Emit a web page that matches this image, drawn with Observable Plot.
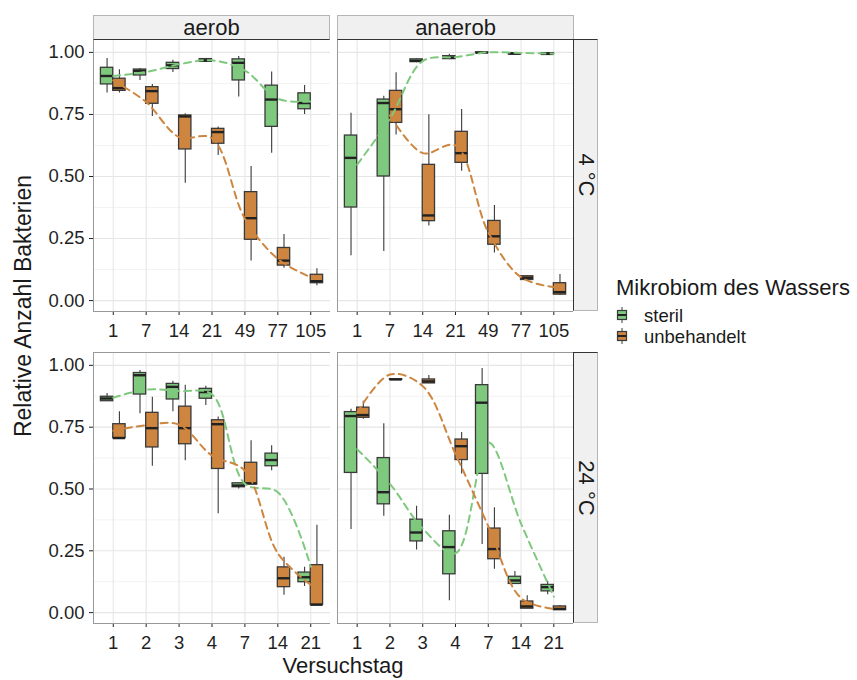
<!DOCTYPE html>
<html>
<head>
<meta charset="utf-8">
<script src="https://cdn.jsdelivr.net/npm/d3@7"></script>
<script src="https://cdn.jsdelivr.net/npm/@observablehq/plot@0.6"></script>
<style>
  html, body { margin: 0; padding: 0; background: #fff; }
  #chart { position: relative; width: 857px; height: 680px; font-family: "Liberation Sans", Arial, sans-serif; color: #1a1a1a; overflow: hidden; }
  .abs { position: absolute; }
  .strip { position: absolute; background: #f0f0f0; box-sizing: border-box; border: 1px solid #b5b5b5; display: flex; align-items: center; justify-content: center; font-size: 22px; color: #1a1a1a; }
  .strip.top { border-bottom: 1.5px solid #333; }
  .strip.right { border-left: 1.5px solid #333; border-top: 1.5px solid #333; }
  .strip.right span { transform: rotate(90deg); white-space: nowrap; display: inline-block; }
</style>
</head>
<body>
<div id="chart"></div>
<script>
// ---------- data ----------
const daysCold = ["1", "7", "14", "21", "49", "77", "105"];
const daysWarm = ["1", "2", "3", "4", "7", "14", "21"];
const groups = ["steril", "unbehandelt"];
const groupColors = ["#7fc97f", "#cd853f"];
const yTicks = [0, 0.25, 0.5, 0.75, 1];
const yMinor = [0.125, 0.375, 0.625, 0.875];

// five-number summaries [whisker low, q1, median, q3, whisker high]
const aerob4_steril = [
  [0.836, 0.871, 0.905, 0.938, 0.975],
  [0.887, 0.907, 0.926, 0.931, 0.935],
  [0.919, 0.933, 0.948, 0.958, 0.968],
  [0.960, 0.962, 0.968, 0.973, 0.975],
  [0.820, 0.887, 0.958, 0.972, 0.984],
  [0.594, 0.700, 0.810, 0.866, 0.921],
  [0.750, 0.771, 0.796, 0.835, 0.867]
];
const aerob4_unbehandelt = [
  [0.836, 0.845, 0.856, 0.894, 0.930],
  [0.742, 0.793, 0.844, 0.860, 0.871],
  [0.473, 0.609, 0.742, 0.746, 0.753],
  [0.585, 0.632, 0.679, 0.692, 0.699],
  [0.159, 0.245, 0.332, 0.437, 0.540],
  [0.130, 0.141, 0.161, 0.212, 0.266],
  [0.060, 0.070, 0.078, 0.104, 0.128]
];
const anaerob4_steril = [
  [0.181, 0.375, 0.575, 0.665, 0.755],
  [0.198, 0.500, 0.796, 0.810, 0.823],
  [0.958, 0.961, 0.966, 0.972, 0.974],
  [0.970, 0.973, 0.979, 0.985, 0.993],
  [0.995, 0.997, 0.999, 1.000, 1.000],
  [0.990, 0.992, 0.995, 0.997, 0.998],
  [0.990, 0.992, 0.994, 0.997, 0.998]
];
const anaerob4_unbehandelt = [
  null,
  [0.667, 0.716, 0.771, 0.845, 0.918],
  [0.301, 0.320, 0.343, 0.547, 0.749],
  [0.521, 0.555, 0.594, 0.680, 0.770],
  [0.192, 0.225, 0.259, 0.321, 0.383],
  [0.080, 0.083, 0.092, 0.098, 0.100],
  [0.020, 0.024, 0.034, 0.070, 0.105]
];
const aerob24_steril = [
  [0.855, 0.855, 0.866, 0.873, 0.886],
  [0.804, 0.882, 0.960, 0.969, 0.979],
  [0.812, 0.862, 0.913, 0.925, 0.936],
  [0.838, 0.865, 0.892, 0.905, 0.916],
  [0.500, 0.507, 0.514, 0.523, 0.523],
  [0.574, 0.592, 0.617, 0.643, 0.675],
  [0.106, 0.123, 0.143, 0.162, 0.183]
];
const aerob24_unbehandelt = [
  [0.706, 0.706, 0.706, 0.762, 0.812],
  [0.592, 0.668, 0.746, 0.808, 0.871],
  [0.614, 0.681, 0.746, 0.833, 0.920],
  [0.400, 0.581, 0.762, 0.778, 0.791],
  [0.518, 0.518, 0.523, 0.606, 0.695],
  [0.070, 0.103, 0.139, 0.183, 0.224],
  [0.030, 0.032, 0.032, 0.192, 0.353]
];
const anaerob24_steril = [
  [0.336, 0.565, 0.795, 0.811, 0.822],
  [0.390, 0.438, 0.487, 0.625, 0.764],
  [0.253, 0.288, 0.324, 0.376, 0.430],
  [0.048, 0.155, 0.265, 0.329, 0.394],
  [0.276, 0.561, 0.849, 0.920, 0.987],
  [0.116, 0.116, 0.130, 0.145, 0.166],
  [0.072, 0.086, 0.103, 0.112, 0.127]
];
const anaerob24_unbehandelt = [
  [0.782, 0.788, 0.799, 0.829, 0.855],
  [0.941, 0.942, 0.943, 0.944, 0.945],
  [0.927, 0.927, 0.935, 0.943, 0.959],
  [0.561, 0.617, 0.673, 0.700, 0.728],
  [0.175, 0.216, 0.257, 0.340, 0.424],
  [0.016, 0.016, 0.025, 0.045, 0.068],
  [0.010, 0.010, 0.015, 0.025, 0.029]
];

// dashed trend lines (values read at each day)
const aerob4_sterilLine = [0.905, 0.921, 0.952, 0.968, 0.927, 0.813, 0.802];
const aerob4_unbehandeltLine = [0.887, 0.800, 0.659, 0.654, 0.330, 0.168, 0.094];
const anaerob4_sterilLine = [0.548, 0.733, 0.965, 0.981, 1.000, 0.998, 0.995];
const anaerob4_unbehandeltLine = [null, 0.746, 0.594, 0.625, 0.275, 0.094, 0.054];
const aerob24_sterilLine = [0.869, 0.902, 0.896, 0.882, 0.521, 0.487, 0.186];
const aerob24_unbehandeltLine = [0.735, 0.758, 0.760, 0.635, 0.574, 0.240, 0.112];
const anaerob24_sterilLine = [0.661, 0.521, 0.340, 0.240, 0.688, 0.360, 0.065];
const anaerob24_unbehandeltLine = [0.808, 0.963, 0.916, 0.641, 0.350, 0.059, 0.015];

// ---------- helpers ----------
const FONT = '"Liberation Sans", Arial, sans-serif';
const DODGE = 0.375;

function boxRows(stats, group) {
  const side = group === groups[0] ? -1 : 1;
  return stats.map((s, i) => s == null ? null : {
    group,
    x1: side < 0 ? i - DODGE : i,
    x2: side < 0 ? i : i + DODGE,
    xc: i + side * DODGE / 2,
    lo: s[0], q1: s[1], med: s[2], q3: s[3], hi: s[4]
  }).filter(Boolean);
}
function lineRows(vals, group) {
  return vals.map((v, i) => v == null ? null : {i, v, group}).filter(Boolean);
}

function panel({days, steril, unb, sterilLine, unbLine, showY, width, height, marginLeft}) {
  const boxes = [...boxRows(steril, groups[0]), ...boxRows(unb, groups[1])];
  const lines = [...lineRows(sterilLine, groups[0]), ...lineRows(unbLine, groups[1])];
  const idx = days.map((d, i) => i);
  return Plot.plot({
    width, height,
    marginLeft, marginRight: 0, marginTop: 0, marginBottom: 40,
    style: {fontFamily: FONT, fontSize: "18.5px", color: "#1f1f1f", background: "transparent"},
    x: {type: "linear", domain: [-0.6, 6.6], ticks: idx, tickFormat: i => days[i], tickSize: 4, tickPadding: 8, label: null},
    y: {domain: [-0.044, 1.052], ticks: yTicks, tickFormat: d3.format(".2f"), tickSize: 4, tickPadding: 5, label: null, axis: showY ? "left" : null},
    color: {domain: groups, range: groupColors},
    marks: [
      Plot.ruleY(yMinor, {stroke: "#f3f3f3", strokeWidth: 1}),
      Plot.ruleY(yTicks, {stroke: "#e6e6e6", strokeWidth: 1.1}),
      Plot.ruleX(idx, {stroke: "#e6e6e6", strokeWidth: 1.1}),
      Plot.ruleX(boxes, {x: "xc", y1: "lo", y2: "hi", stroke: "#3a3a3a", strokeWidth: 1.1}),
      Plot.rect(boxes, {x1: "x1", x2: "x2", y1: "q1", y2: "q3", fill: "group", stroke: "#3a3a3a", strokeWidth: 1.3}),
      Plot.ruleY(boxes, {x1: "x1", x2: "x2", y: "med", stroke: "#222", strokeWidth: 2.4}),
      Plot.line(lines, {x: "i", y: "v", z: "group", stroke: "group", strokeWidth: 2, strokeDasharray: "7,5", curve: "catmull-rom"}),
      Plot.frame({stroke: "#999", strokeWidth: 1})
    ]
  });
}

// ---------- layout ----------
const chart = document.getElementById("chart");
function place(node, left, top) {
  node.style.position = "absolute";
  node.style.left = left + "px";
  node.style.top = top + "px";
  chart.appendChild(node);
}

place(panel({days: daysCold, steril: aerob4_steril, unb: aerob4_unbehandelt, sterilLine: aerob4_sterilLine, unbLine: aerob4_unbehandeltLine, showY: true, width: 330, height: 312, marginLeft: 93}), 0, 39);
place(panel({days: daysCold, steril: anaerob4_steril, unb: anaerob4_unbehandelt, sterilLine: anaerob4_sterilLine, unbLine: anaerob4_unbehandeltLine, showY: false, width: 236, height: 312, marginLeft: 0}), 337, 39);
place(panel({days: daysWarm, steril: aerob24_steril, unb: aerob24_unbehandelt, sterilLine: aerob24_sterilLine, unbLine: aerob24_unbehandeltLine, showY: true, width: 330, height: 311, marginLeft: 93}), 0, 352);
place(panel({days: daysWarm, steril: anaerob24_steril, unb: anaerob24_unbehandelt, sterilLine: anaerob24_sterilLine, unbLine: anaerob24_unbehandeltLine, showY: false, width: 236, height: 311, marginLeft: 0}), 337, 352);

function strip(text, cls, left, top, w, h) {
  const d = document.createElement("div");
  d.className = "strip " + cls;
  d.style.left = left + "px"; d.style.top = top + "px";
  d.style.width = w + "px"; d.style.height = h + "px";
  const s = document.createElement("span");
  s.textContent = text;
  d.appendChild(s);
  chart.appendChild(d);
}
strip("aerob", "top", 93, 15, 237, 25);
strip("anaerob", "top", 337, 15, 237, 25);
strip("4 °C", "right", 573, 39, 25, 272);
strip("24 °C", "right", 573, 352, 25, 271);

function text(str, css) {
  const d = document.createElement("div");
  d.className = "abs";
  d.textContent = str;
  Object.assign(d.style, css);
  chart.appendChild(d);
  return d;
}
// axis titles
text("Relative Anzahl Bakterien", {left: "23px", top: "306px", fontSize: "23px", whiteSpace: "nowrap", transform: "translate(-50%, -50%) rotate(-90deg)", lineHeight: "1"});
text("Versuchstag", {left: "343px", top: "655px", fontSize: "22px", whiteSpace: "nowrap", transform: "translateX(-50%)", lineHeight: "22px"});

// legend
text("Mikrobiom des Wassers", {left: "616px", top: "277px", fontSize: "22px", whiteSpace: "nowrap", lineHeight: "1"});
groups.forEach((g, k) => {
  const top = 306 + k * 20.5;
  const ns = "http://www.w3.org/2000/svg";
  const svg = document.createElementNS(ns, "svg");
  svg.setAttribute("width", 12); svg.setAttribute("height", 18);
  svg.style.position = "absolute"; svg.style.left = "616px"; svg.style.top = top + "px";
  const wl = document.createElementNS(ns, "line");
  wl.setAttribute("x1", 6); wl.setAttribute("x2", 6); wl.setAttribute("y1", 1); wl.setAttribute("y2", 17);
  wl.setAttribute("stroke", "#3a3a3a"); wl.setAttribute("stroke-width", 1);
  const r = document.createElementNS(ns, "rect");
  r.setAttribute("x", 1.5); r.setAttribute("y", 4.5); r.setAttribute("width", 9); r.setAttribute("height", 9);
  r.setAttribute("fill", groupColors[k]); r.setAttribute("stroke", "#3a3a3a"); r.setAttribute("stroke-width", 1.2);
  const m = document.createElementNS(ns, "line");
  m.setAttribute("x1", 1.5); m.setAttribute("x2", 10.5); m.setAttribute("y1", 9); m.setAttribute("y2", 9);
  m.setAttribute("stroke", "#222"); m.setAttribute("stroke-width", 2);
  svg.append(wl, r, m);
  chart.appendChild(svg);
  text(g, {left: "644px", top: (top + 1) + "px", fontSize: "18.5px", whiteSpace: "nowrap", lineHeight: "18px"});
});
</script>
</body>
</html>
